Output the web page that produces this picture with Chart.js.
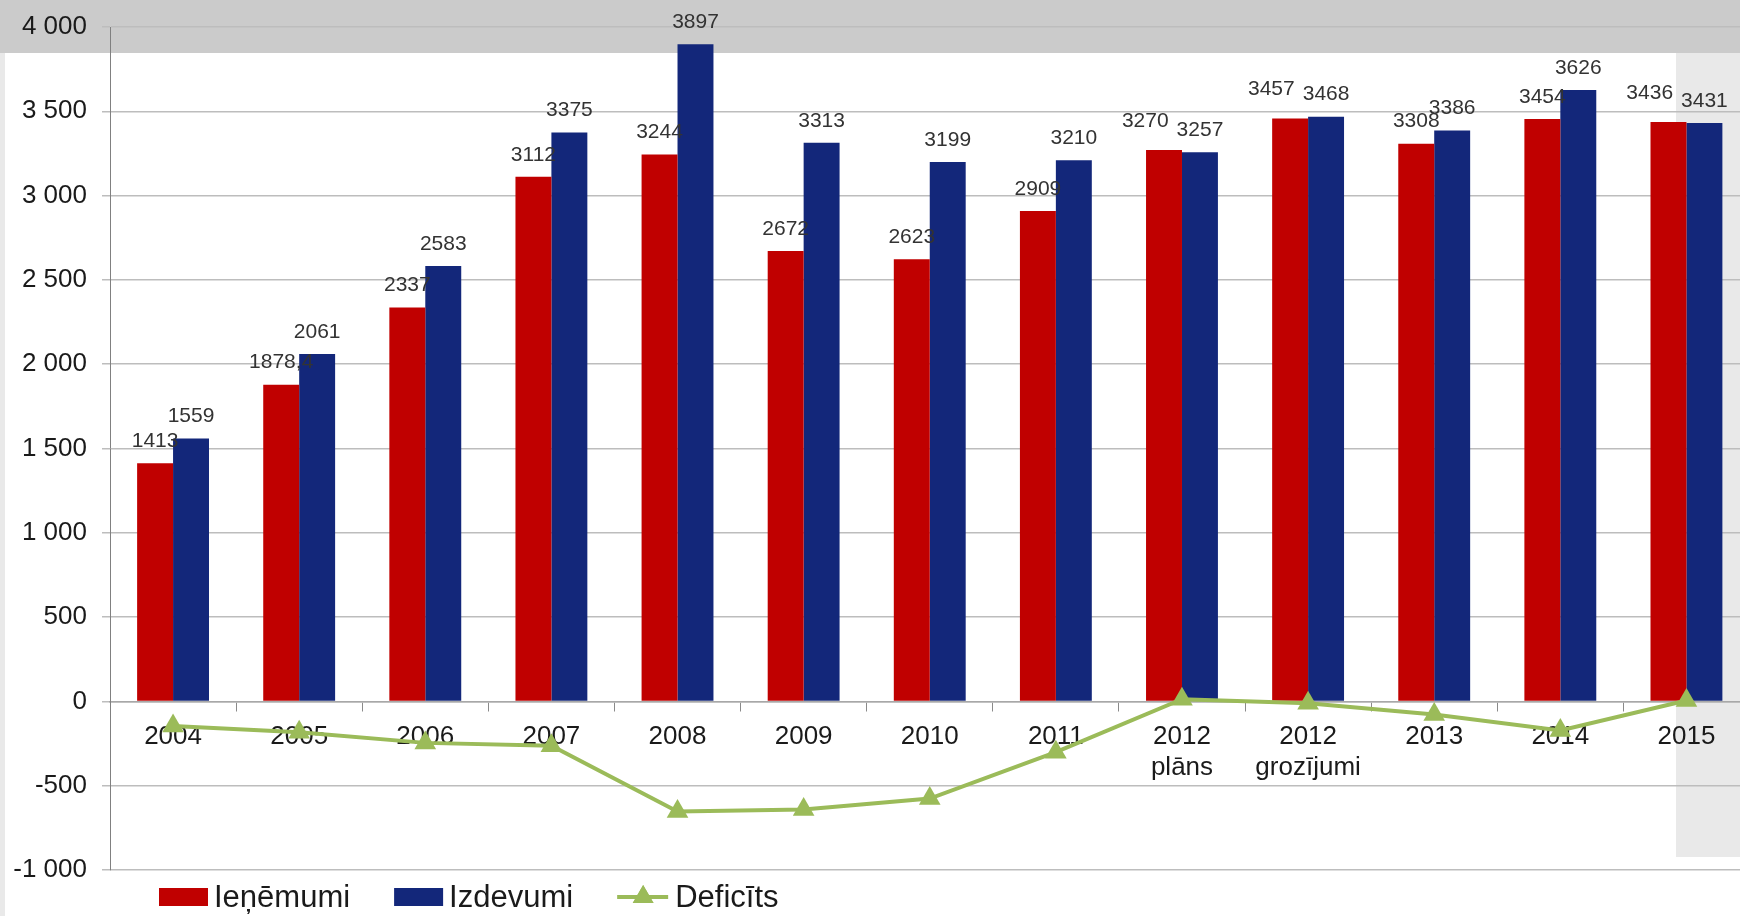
<!DOCTYPE html>
<html lang="lv">
<head>
<meta charset="UTF-8" />
<title>Ieņēmumi, izdevumi un deficīts</title>
<script src="https://cdn.jsdelivr.net/npm/chart.js@4.4.1/dist/chart.umd.min.js"></script>
<style>
	html, body { margin: 0; padding: 0; overflow: hidden; background: #fff; }
	canvas { display: block; }
</style>
</head>
<body>
<canvas id="myChart" width="1762" height="916"></canvas>
<script>
const categories = ["2004", "2005", "2006", "2007", "2008", "2009", "2010", "2011",
	["2012", "plāns"], ["2012", "grozījumi"], "2013", "2014", "2015"];
const ienemumi = [1413, 1878.4, 2337, 3112, 3244, 2672, 2623, 2909, 3270, 3457, 3308, 3454, 3436];
const izdevumi = [1559, 2061, 2583, 3375, 3897, 3313, 3199, 3210, 3257, 3468, 3386, 3626, 3431];
const deficits = [-146, -183, -246, -263, -653, -641, -576, -301, 13, -11, -78, -172, 5];
const yTicks = [-1000, -500, 0, 500, 1000, 1500, 2000, 2500, 3000, 3500, 4000];

const RED = "#c00000";
const BLUE = "#13277a";
const GREEN = "#9bbb59";
const FONT = '"Liberation Sans", Arial, sans-serif';

// thousands with a space: 4 000, -1 000
const fmtAxis = (v) => String(v).replace(/\B(?=(\d{3})+(?!\d))/g, " ");
const fmtValue = (v) => String(v).replace(".", ",");

// grey bands of the original slide
const background = {
	id: "background",
	beforeDraw(chart) {
		const { ctx, width, height } = chart;
		ctx.save();
		ctx.fillStyle = "#cbcbcb";
		ctx.fillRect(0, 0, width, 53);
		ctx.fillStyle = "#e9e9e9";
		ctx.fillRect(0, 53, 5, height - 53);
		ctx.fillRect(1676, 53, width - 1676, 804);
		ctx.restore();
	},
};

// numbers above the bars; when the pair would collide, the red one moves left and up
const barLabels = {
	id: "barLabels",
	afterDatasetsDraw(chart) {
		const ctx = chart.ctx;
		ctx.save();
		ctx.font = "21px " + FONT;
		ctx.fillStyle = "#333";
		ctx.textAlign = "center";
		ctx.textBaseline = "middle";
		const redBars = chart.getDatasetMeta(0).data;
		const blueBars = chart.getDatasetMeta(1).data;
		redBars.forEach((rb, j) => {
			const bb = blueBars[j];
			const rt = fmtValue(ienemumi[j]);
			const bt = fmtValue(izdevumi[j]);
			const rw = ctx.measureText(rt).width;
			const bw = ctx.measureText(bt).width;
			let rx = rb.x, ry = rb.y - 22;
			const bx = bb.x, by = bb.y - 22;
			if (Math.abs(ry - by) < 12 && rx + rw / 2 + 4 > bx - bw / 2) {
				rx = bx - bw / 2 - 8 - rw / 2;
				ry -= 7;
			}
			ctx.fillText(rt, rx, ry);
			ctx.fillText(bt, bx, by);
		});
		ctx.restore();
	},
};

// legend drawn by hand so it sits where the original one is
const bottomLegend = {
	id: "bottomLegend",
	afterDraw(chart) {
		const ctx = chart.ctx;
		const y = 897;
		let x = 159;
		ctx.save();
		ctx.font = "31px " + FONT;
		ctx.textBaseline = "middle";
		chart.data.datasets.forEach((ds) => {
			if (ds.type === "line") {
				ctx.strokeStyle = ds.borderColor;
				ctx.lineWidth = 4;
				ctx.beginPath();
				ctx.moveTo(x, y);
				ctx.lineTo(x + 51, y);
				ctx.stroke();
				ctx.fillStyle = ds.borderColor;
				Chart.helpers.drawPoint(ctx, { pointStyle: "triangle", radius: 12, borderWidth: 0 }, x + 26, y);
				ctx.fill();
				x += 58;
			} else {
				ctx.fillStyle = ds.backgroundColor;
				ctx.fillRect(x, y - 9, 49, 18);
				x += 55;
			}
			ctx.fillStyle = "#1a1a1a";
			ctx.fillText(ds.label, x, y + 1);
			x += ctx.measureText(ds.label).width + 44;
		});
		ctx.restore();
	},
};

const ctx = document.getElementById("myChart").getContext("2d");
new Chart(ctx, {
	data: {
		labels: categories,
		datasets: [
			{
				type: "bar",
				label: "Ieņēmumi",
				data: ienemumi,
				backgroundColor: RED,
				order: 1,
			},
			{
				type: "bar",
				label: "Izdevumi",
				data: izdevumi,
				backgroundColor: BLUE,
				order: 1,
			},
			{
				type: "line",
				label: "Deficīts",
				data: deficits,
				borderColor: GREEN,
				backgroundColor: GREEN,
				borderWidth: 4,
				pointStyle: "triangle",
				pointRadius: 12.5,
				pointBorderWidth: 0,
				pointBackgroundColor: GREEN,
				tension: 0,
				order: 0,
			},
		],
	},
	options: {
		responsive: false,
		animation: false,
		categoryPercentage: 0.57,
		barPercentage: 1.0,
		layout: { padding: { top: 27, bottom: 46, left: 0, right: 0 } },
		plugins: {
			legend: { display: false },
			tooltip: { enabled: false },
		},
		scales: {
			x: {
				position: { y: 0 },
				offset: true,
				grid: {
					offset: true,
					drawOnChartArea: false,
					drawTicks: true,
					tickLength: 9,
					color: "#8a8a8a",
					lineWidth: 1,
				},
				border: { display: true, color: "#a8a8a8", width: 1.5 },
				ticks: {
					padding: 11,
					maxRotation: 0,
					autoSkip: false,
					color: "#1a1a1a",
					font: { family: FONT, size: 26, lineHeight: 1.2 },
				},
			},
			y: {
				min: -1000,
				max: 4000,
				afterBuildTicks: (scale) => {
					scale.ticks = yTicks.map((v) => ({ value: v }));
				},
				afterFit: (scale) => {
					scale.width = 110;
					scale.paddingTop = 0;
					scale.paddingBottom = 0;
				},
				grid: {
					color: "#bdbdbd",
					lineWidth: 1.5,
					drawTicks: true,
					tickLength: 8,
				},
				border: { display: true, color: "#808080", width: 1 },
				ticks: {
					padding: 15,
					color: "#1a1a1a",
					font: { family: FONT, size: 26 },
					callback: (v) => fmtAxis(v),
				},
			},
		},
	},
	plugins: [background, barLabels, bottomLegend],
});
</script>
</body>
</html>
